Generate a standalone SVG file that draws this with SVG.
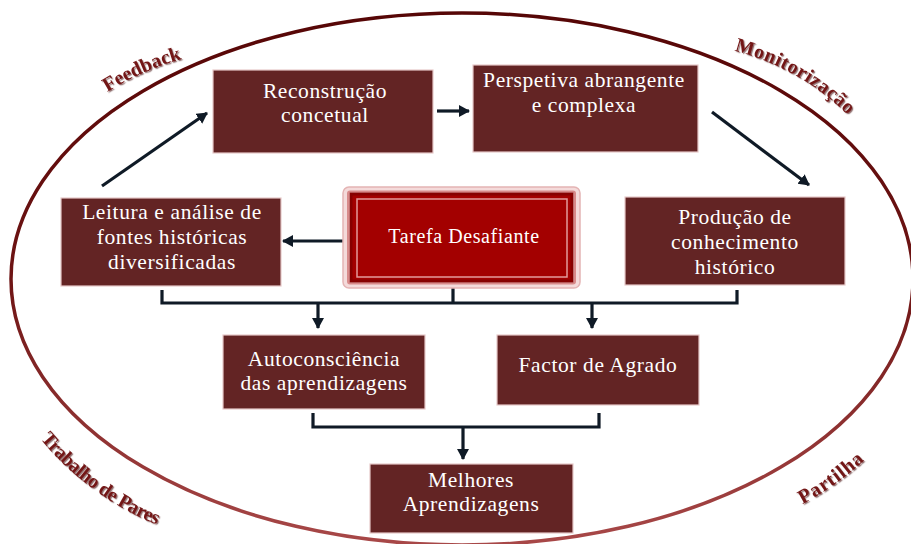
<svg xmlns="http://www.w3.org/2000/svg" width="911" height="544" viewBox="0 0 911 544">
<defs>
<linearGradient id="ring" gradientUnits="userSpaceOnUse" x1="0" y1="13" x2="0" y2="545">
<stop offset="0" stop-color="#560606"/>
<stop offset="0.5" stop-color="#6e1414"/>
<stop offset="1" stop-color="#a84848"/>
</linearGradient>
<filter id="sh" x="-10%" y="-20%" width="130%" height="150%">
<feDropShadow dx="1.2" dy="1.2" stdDeviation="0.6" flood-color="#3a0505" flood-opacity="0.55"/>
</filter>
<marker id="ah" markerUnits="userSpaceOnUse" markerWidth="14" markerHeight="14" refX="10" refY="6" orient="auto">
<path d="M0,0 L11,6 L0,12 z" fill="#0f1a26"/>
</marker>
<path id="pFeed" d="M101,96 A300,300 0 0 1 189,57"/>
<path id="pMon" d="M727,49 A250,250 0 0 1 853,120"/>
<path id="pTrab" d="M38,436 A300,300 0 0 0 160,526"/>
<path id="pPart" d="M797,507 A300,300 0 0 0 869,456"/>
</defs>
<style>
.box{fill:#632424;stroke:#e6c9c9;stroke-width:1.2}
.t{font-family:"Liberation Serif","Times New Roman",serif;font-size:21.5px;letter-spacing:0.6px;fill:#ffffff;text-anchor:middle}
.lab{font-family:"Liberation Serif","Times New Roman",serif;font-size:20px;font-weight:bold;fill:#731818;text-anchor:middle;filter:url(#sh)}
.con{fill:none;stroke:#0f1a26;stroke-width:3.2}
</style>

<ellipse cx="462" cy="279" rx="451" ry="266" fill="none" stroke="url(#ring)" stroke-width="3.5"/>

<g id="labels">
<text class="lab"><textPath href="#pFeed" startOffset="50%" textLength="82">Feedback</textPath></text>
<text class="lab"><textPath href="#pMon" startOffset="50%" textLength="132">Monitorização</textPath></text>
<text class="lab"><textPath href="#pTrab" startOffset="50%" textLength="146">Trabalho de Pares</textPath></text>
<text class="lab"><textPath href="#pPart" startOffset="50%" textLength="76">Partilha</textPath></text>
</g>

<g id="connectors">
<path class="con" d="M102,186 L207,113" marker-end="url(#ah)"/>
<path class="con" d="M437,111 L469,111" marker-end="url(#ah)"/>
<path class="con" d="M712,112 L809,185" marker-end="url(#ah)"/>
<path class="con" d="M343,241 L283,241" marker-end="url(#ah)"/>
<path class="con" d="M162,290 V303 H737 V290 M453,288 V303"/>
<path class="con" d="M318,303 V328" marker-end="url(#ah)"/>
<path class="con" d="M592,303 V328" marker-end="url(#ah)"/>
<path class="con" d="M313,413 V427 H599 V413"/>
<path class="con" d="M463,427 V459" marker-end="url(#ah)"/>
</g>

<g id="reconstrucao">
<rect class="box" x="213" y="70" width="220" height="83"/>
<text class="t" x="325" y="98">Reconstrução</text>
<text class="t" x="325" y="122">concetual</text>
</g>

<g id="perspetiva">
<rect class="box" x="473" y="65" width="225" height="87"/>
<text class="t" x="584" y="87">Perspetiva abrangente</text>
<text class="t" x="584" y="112">e complexa</text>
</g>

<g id="leitura">
<rect class="box" x="61" y="198" width="220" height="88"/>
<text class="t" x="172" y="219">Leitura e análise de</text>
<text class="t" x="172" y="244">fontes históricas</text>
<text class="t" x="172" y="269">diversificadas</text>
</g>

<g id="tarefa">
<rect x="343" y="187" width="237" height="101" rx="6" fill="#f4dada" stroke="#e4b4b4" stroke-width="1.5"/>
<rect x="348" y="191.5" width="227" height="92" rx="2" fill="none" stroke="#d88a8a" stroke-width="2"/>
<rect x="351" y="194" width="221" height="87" fill="#a30000" stroke="#870000" stroke-width="3"/>
<rect x="357" y="199" width="210" height="78" fill="none" stroke="#e39a9a" stroke-width="1.5"/>
<text class="t" x="464" y="243" style="font-size:20px">Tarefa Desafiante</text>
</g>

<g id="producao">
<rect class="box" x="625" y="197" width="220" height="88"/>
<text class="t" x="735" y="224">Produção de</text>
<text class="t" x="735" y="249">conhecimento</text>
<text class="t" x="735" y="274">histórico</text>
</g>

<g id="autoconsciencia">
<rect class="box" x="223" y="335" width="202" height="74"/>
<text class="t" x="324" y="366">Autoconsciência</text>
<text class="t" x="324" y="390">das aprendizagens</text>
</g>

<g id="agrado">
<rect class="box" x="497" y="335" width="202" height="70"/>
<text class="t" x="598" y="372">Factor de Agrado</text>
</g>

<g id="melhores">
<rect class="box" x="370" y="464" width="203" height="69"/>
<text class="t" x="471" y="487">Melhores</text>
<text class="t" x="471" y="511">Aprendizagens</text>
</g>
</svg>
